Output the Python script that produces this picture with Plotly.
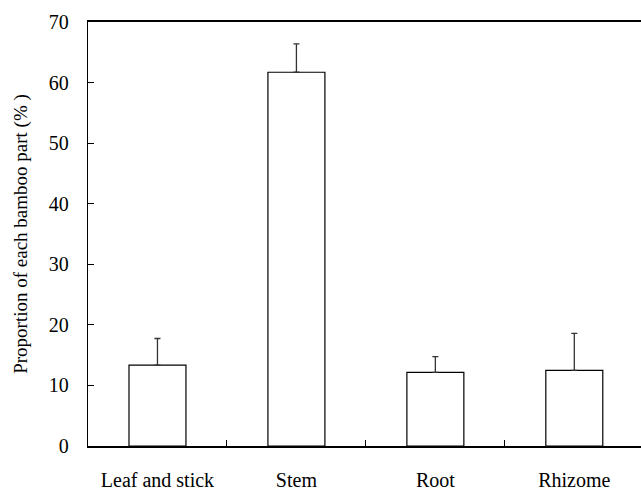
import plotly.graph_objects as go

categories = ["Leaf and stick", "Stem", "Root", "Rhizome"]
values = [13.35, 61.7, 12.15, 12.5]
errors = [4.4, 4.7, 2.6, 6.1]
y_ticks = [0, 10, 20, 30, 40, 50, 60, 70]

FONT = "Liberation Serif, Times New Roman, serif"

fig = go.Figure()
fig.add_trace(go.Bar(
    x=categories, y=values, width=0.41,
    marker=dict(color="white", line=dict(color="black", width=1.2)),
    error_y=dict(type="data", symmetric=False, array=errors,
                 arrayminus=[0] * len(errors),
                 color="#333333", thickness=1.3, width=3),
))

fig.update_layout(
    width=641, height=490,
    margin=dict(l=88, r=0, t=22, b=44),
    paper_bgcolor="white", plot_bgcolor="white",
    showlegend=False,
    font=dict(family=FONT, size=20, color="black"),
)
fig.update_xaxes(
    type="category", range=[-0.5, 3.48], automargin=False,
    showline=True, linecolor="black", linewidth=1.5, mirror=True,
    ticks="inside", ticklen=6, tickwidth=1, tickcolor="black",
    tickson="boundaries", showgrid=False,
    ticklabelstandoff=15,
    tickfont=dict(family=FONT, size=20, color="black"),
)
fig.update_yaxes(
    range=[0, 70], tickvals=y_ticks, automargin=False,
    showline=True, linecolor="black", linewidth=1.3,
    ticks="inside", ticklen=6, tickwidth=1, tickcolor="black",
    showgrid=False, zeroline=False,
    ticklabelstandoff=14,
    tickfont=dict(family=FONT, size=20, color="black"),
    title=dict(text="Proportion of each bamboo part (% )",
               font=dict(family=FONT, size=19, color="black"), standoff=16),
)

fig.write_html("out.html", config={"displayModeBar": False},
               post_script="document.body.style.margin='0';document.body.style.padding='0';")
